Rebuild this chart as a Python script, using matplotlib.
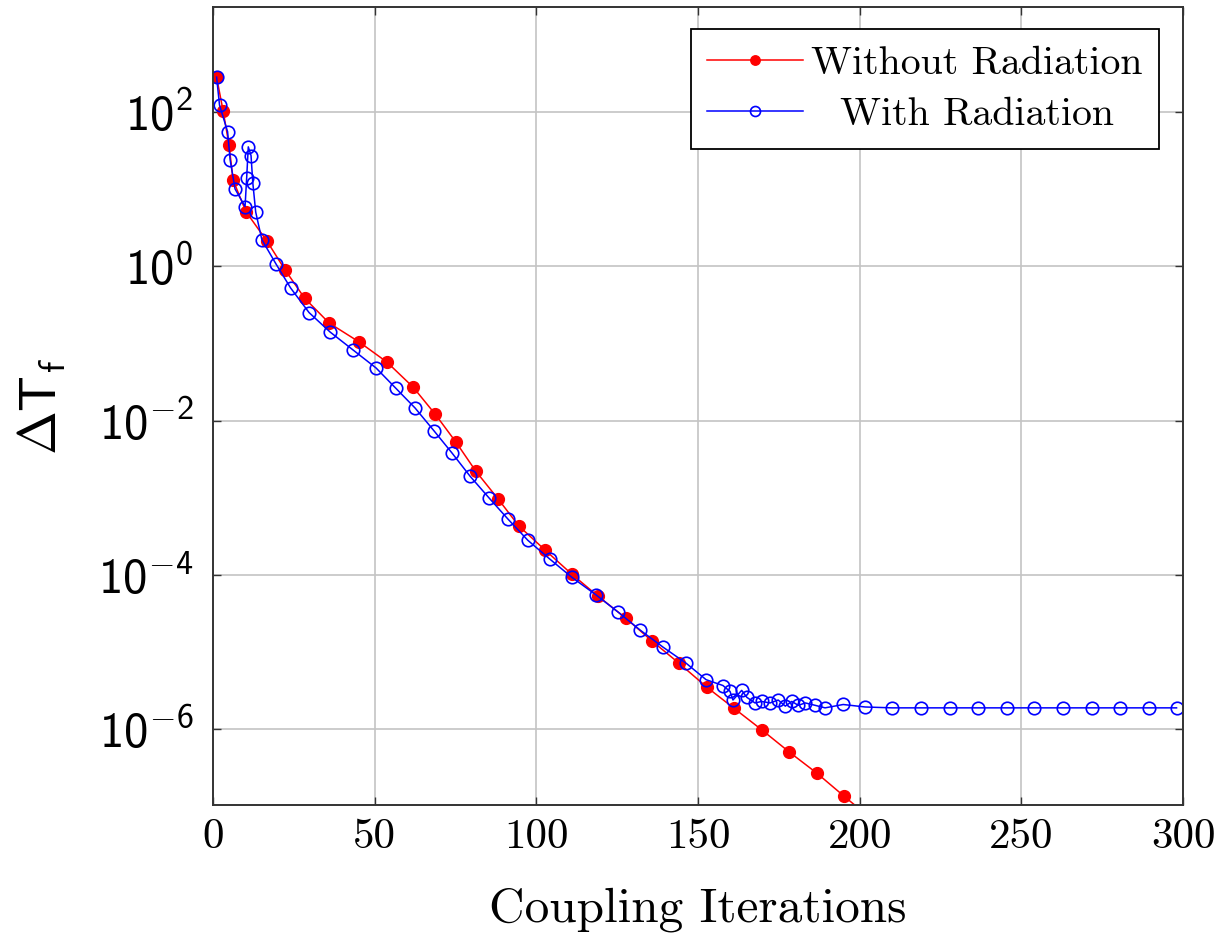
import numpy as np
import matplotlib
matplotlib.use("Agg")
import matplotlib.pyplot as plt
from matplotlib.ticker import FixedLocator, FuncFormatter

plt.rcParams['mathtext.fontset'] = 'custom'
plt.rcParams['mathtext.rm'] = 'cmss10'
plt.rcParams['mathtext.sf'] = 'cmss10'
plt.rcParams['mathtext.it'] = 'cmss10'
plt.rcParams['mathtext.fallback'] = 'cm'
plt.rcParams['font.family'] = 'cmr10'
plt.rcParams['axes.unicode_minus'] = False

# Without Radiation
x_nr = [1.1, 3.1, 4.95, 6.2, 10.2, 16.6, 22.3, 28.3, 35.9, 45.2, 53.8, 61.9, 68.7, 75.2,
        81.3, 88.2, 94.6, 102.7, 111.0, 119.1, 127.7, 135.8, 144.1, 152.8, 161.1, 169.8,
        178.2, 186.8, 195.2, 203.5]
y_nr = [280, 103, 37, 13, 5.05, 2.13, 0.89, 0.385, 0.183, 0.104, 0.057, 0.027, 0.0121, 0.0052,
        0.0022, 9.6e-4, 4.3e-4, 2.1e-4, 1.02e-4, 5.3e-5, 2.75e-5, 1.39e-5, 7.2e-6, 3.5e-6,
        1.88e-6, 9.8e-7, 5.1e-7, 2.7e-7, 1.36e-7, 7e-8]

# With Radiation
x_r = [1.1, 2.0, 4.5, 5.3, 6.8, 9.9, 10.4, 10.9, 11.75, 12.3, 13.2, 15.1, 19.5, 24.0,
       29.7, 36.2, 43.3, 50.4, 56.6, 62.5, 68.4, 73.9, 79.5, 85.4, 91.2, 97.4, 104.2,
       111.0, 118.5, 125.3, 132.1, 139.2, 146.3, 152.5, 157.7, 159.9, 160.8, 163.5, 165.1,
       167.6, 169.7, 172.3, 174.8, 177.0, 179.0, 181.0, 183.2, 186.2, 189.3, 194.9, 201.7,
       210.0, 219.0, 228.0, 236.5, 245.5, 254.0, 263.0, 272.0, 280.5, 289.5, 298.0]
y_r = [280, 122, 55, 23.6, 10, 5.9, 13.8, 35, 27, 12, 5.0, 2.2, 1.06, 0.52,
       0.25, 0.14, 0.082, 0.048, 0.026, 0.0145, 0.0073, 0.0038, 0.0019, 9.9e-4, 5.3e-4,
       2.8e-4, 1.6e-4, 9.3e-5, 5.5e-5, 3.3e-5, 1.93e-5, 1.16e-5, 7.2e-6, 4.4e-6, 3.7e-6,
       3.1e-6, 2.4e-6, 3.2e-6, 2.6e-6, 2.2e-6, 2.3e-6, 2.2e-6, 2.4e-6, 2.0e-6, 2.3e-6,
       2.05e-6, 2.2e-6, 2.05e-6, 1.9e-6, 2.1e-6, 1.95e-6, 1.9e-6, 1.9e-6, 1.9e-6, 1.9e-6,
       1.9e-6, 1.9e-6, 1.9e-6, 1.9e-6, 1.9e-6, 1.9e-6, 1.9e-6]

xticks = [0, 50, 100, 150, 200, 250, 300]
yticks = [1e-6, 1e-4, 1e-2, 1e0, 1e2]

fig = plt.figure(figsize=(12.3, 9.36), dpi=100)
ax = fig.add_axes([0.1732, 0.14, 0.9618 - 0.1732, 0.9925 - 0.14])

ax.plot(x_nr, y_nr, color='red', lw=1.1, marker='o', ms=8.5, mfc='red', mec='red',
        label='Without Radiation')
ax.plot(x_r, y_r, color='blue', lw=1.1, marker='o', ms=9, mfc='none', mec='blue',
        mew=1.2, label='With Radiation')

ax.set_yscale('log')
ax.set_xlim(0, 300)
ax.set_ylim(1.05e-7, 2265)
ax.xaxis.set_major_locator(FixedLocator(xticks))
ax.yaxis.set_major_locator(FixedLocator(yticks))
ax.yaxis.set_minor_locator(FixedLocator([]))
ax.yaxis.set_major_formatter(FuncFormatter(
    lambda v, p: r'$\mathsf{10^{%d}}$' % int(round(np.log10(v)))))

ax.grid(True, color='#c4c4c4', lw=1.2)
ax.set_axisbelow(True)
ax.tick_params(direction='in', length=6, width=1, top=True, right=True, colors='#333333')
ax.tick_params(axis='x', labelsize=31, pad=10, labelcolor='black')
ax.tick_params(axis='y', labelsize=35, pad=14, labelcolor='black')
for s in ax.spines.values():
    s.set_linewidth(1.4)
    s.set_color('#333333')

ax.set_xlabel('Coupling Iterations', fontsize=35.5, labelpad=22)
ax.set_ylabel(r'$\mathsf{\Delta T_f}$', fontsize=38, labelpad=22)

leg = ax.legend(loc='upper right', bbox_to_anchor=(0.9755, 0.9724), borderaxespad=0,
                fontsize=28.7, fancybox=False, edgecolor='black', framealpha=1,
                handlelength=2.4, handletextpad=0.2, labelspacing=0.38, borderpad=0.42,
                markerscale=0.8)
leg.get_frame().set_linewidth(1.3)

# centre the shorter label like the original legend
fig.canvas.draw()
r = fig.canvas.get_renderer()
w = [t.get_window_extent(r).width for t in leg.texts]
leg.texts[1].set_x((w[0] - w[1]) / 2)

fig.savefig('out.png', dpi=100)
